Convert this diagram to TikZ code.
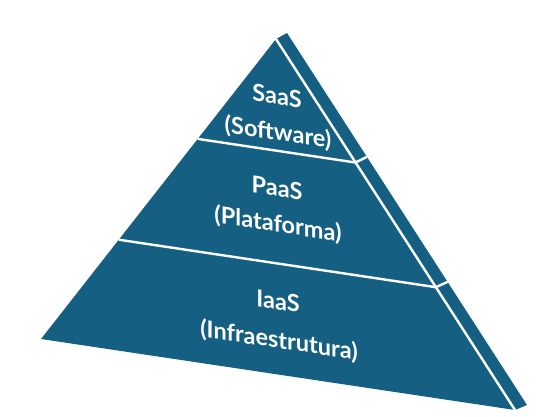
\documentclass[tikz,border=0pt]{standalone}
\usepackage{fontspec}
\setmainfont{Lato}
\usetikzlibrary{calc}
\definecolor{pyr}{HTML}{156082}
\begin{document}
\begin{tikzpicture}[x=1pt,y=1pt,
  face/.style={fill=pyr,draw=none},
  gap/.style={draw=white,line width=2.4pt},
  lbl/.style={text=white,font=\fontsize{23.5}{28}\selectfont\bfseries,yslant=-0.15,inner sep=0pt}]
\useasboundingbox (0,0) rectangle (547,-417);
\coordinate (A) at (276,-39);
\coordinate (L) at (41,-339);
\coordinate (R) at (515,-410);
\coordinate (A2) at (287,-33);
\coordinate (R2) at (527,-405);
\coordinate (l1) at ($(A)!0.333!(L)$);
\coordinate (l2) at ($(A)!0.669!(L)$);
\coordinate (r1) at ($(A)!0.333!(R)$);
\coordinate (r2) at ($(A)!0.669!(R)$);
\coordinate (s1) at ($(A2)!0.333!(R2)$);
\coordinate (s2) at ($(A2)!0.669!(R2)$);
\fill[face] (A) -- (L) -- (R) -- cycle;
\fill[face] (A) -- (A2) -- (R2) -- (R) -- cycle;
\draw[gap] (A) -- (R);
\draw[gap] (l1) -- (r1) -- (s1);
\draw[gap] (l2) -- (r2) -- (s2);
\node[lbl] (saas) at (277,-96) {SaaS};
\node[lbl] (saasb) at (278,-133) {(Software)};
\node[lbl] (paas) at (277,-188) {PaaS};
\node[lbl] (paasb) at (278,-225) {(Plataforma)};
\node[lbl] (iaas) at (278,-301) {IaaS};
\node[lbl] (iaasb) at (279,-341) {(Infraestrutura)};
\end{tikzpicture}
\end{document}
